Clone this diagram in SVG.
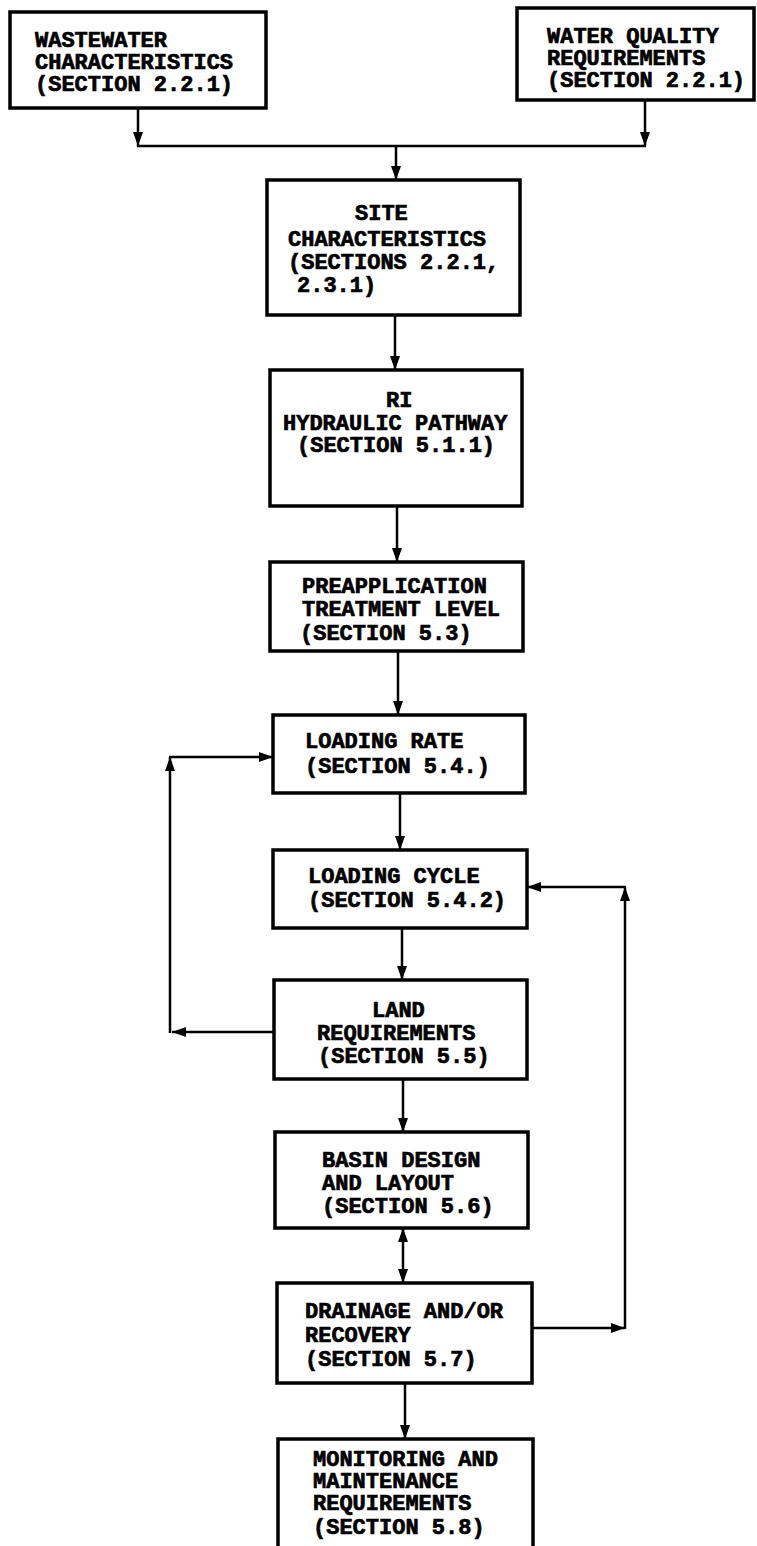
<svg xmlns="http://www.w3.org/2000/svg" width="757" height="1546" viewBox="0 0 757 1546">
<style>
.box{fill:#fff;stroke:#000;stroke-width:3.5}
.t{font-family:"Liberation Mono","DejaVu Sans Mono",monospace;font-weight:bold;font-size:22px;fill:#000;stroke:#000;stroke-width:0.7}
.c{fill:none;stroke:#000;stroke-width:2.5}
.a{marker-end:url(#ah)}
.d{marker-start:url(#ah);marker-end:url(#ah)}
</style>
<defs>
<marker id="ah" markerUnits="userSpaceOnUse" markerWidth="14" markerHeight="10" refX="14" refY="5" orient="auto-start-reverse" viewBox="0 0 14 10">
<path d="M0,0 L14,5 L0,10 z" fill="#000"/>
</marker>
</defs>
<rect width="757" height="1546" fill="#fff"/>
<g id="connectors">
<line class="c a" x1="138" y1="108" x2="138" y2="146"/>
<line class="c a" x1="645" y1="100" x2="645" y2="146"/>
<line class="c" x1="137" y1="146" x2="646" y2="146"/>
<line class="c a" x1="396" y1="146" x2="396" y2="180"/>
<line class="c a" x1="395" y1="315" x2="395" y2="370"/>
<line class="c a" x1="397" y1="506" x2="397" y2="562"/>
<line class="c a" x1="398" y1="651" x2="398" y2="715"/>
<line class="c a" x1="400" y1="793" x2="400" y2="850"/>
<line class="c a" x1="402" y1="928" x2="402" y2="980"/>
<line class="c a" x1="403" y1="1079" x2="403" y2="1132"/>
<line class="c d" x1="403" y1="1228" x2="403" y2="1283"/>
<line class="c a" x1="405" y1="1383" x2="405" y2="1439"/>
<line class="c a" x1="274" y1="1032" x2="172" y2="1032"/>
<line class="c a" x1="170" y1="1033" x2="170" y2="757"/>
<line class="c a" x1="169" y1="757" x2="273" y2="757"/>
<line class="c a" x1="532" y1="1328" x2="625" y2="1328"/>
<line class="c a" x1="625" y1="1329" x2="625" y2="887"/>
<line class="c a" x1="626" y1="887" x2="527" y2="887"/>
</g>
<g id="n1">
<rect class="box" x="10" y="12" width="256" height="96"/>
<text class="t" x="35" y="47">WASTEWATER</text>
<text class="t" x="35" y="69">CHARACTERISTICS</text>
<text class="t" x="35" y="91">(SECTION 2.2.1)</text>
</g>
<g id="n2">
<rect class="box" x="517" y="8" width="237" height="92"/>
<text class="t" x="547" y="43">WATER QUALITY</text>
<text class="t" x="547" y="65">REQUIREMENTS</text>
<text class="t" x="547" y="87">(SECTION 2.2.1)</text>
</g>
<g id="n3">
<rect class="box" x="267" y="180" width="253" height="135"/>
<text class="t" x="355" y="220">SITE</text>
<text class="t" x="288" y="246">CHARACTERISTICS</text>
<text class="t" x="288" y="269">(SECTIONS 2.2.1,</text>
<text class="t" x="297" y="292">2.3.1)</text>
</g>
<g id="n4">
<rect class="box" x="270" y="370" width="252" height="136"/>
<text class="t" x="386" y="407">RI</text>
<text class="t" x="283" y="430">HYDRAULIC PATHWAY</text>
<text class="t" x="297" y="452">(SECTION 5.1.1)</text>
</g>
<g id="n5">
<rect class="box" x="270" y="562" width="253" height="89"/>
<text class="t" x="302" y="593">PREAPPLICATION</text>
<text class="t" x="302" y="616">TREATMENT LEVEL</text>
<text class="t" x="300" y="640">(SECTION 5.3)</text>
</g>
<g id="n6">
<rect class="box" x="273" y="715" width="252" height="78"/>
<text class="t" x="305" y="748">LOADING RATE</text>
<text class="t" x="305" y="773">(SECTION 5.4.)</text>
</g>
<g id="n7">
<rect class="box" x="273" y="850" width="254" height="78"/>
<text class="t" x="308" y="883">LOADING CYCLE</text>
<text class="t" x="308" y="907">(SECTION 5.4.2)</text>
</g>
<g id="n8">
<rect class="box" x="274" y="980" width="253" height="99"/>
<text class="t" x="372" y="1017">LAND</text>
<text class="t" x="317" y="1040">REQUIREMENTS</text>
<text class="t" x="318" y="1063">(SECTION 5.5)</text>
</g>
<g id="n9">
<rect class="box" x="275" y="1132" width="253" height="96"/>
<text class="t" x="322" y="1167">BASIN DESIGN</text>
<text class="t" x="322" y="1190">AND LAYOUT</text>
<text class="t" x="322" y="1213">(SECTION 5.6)</text>
</g>
<g id="n10">
<rect class="box" x="277" y="1283" width="255" height="100"/>
<text class="t" x="305" y="1318">DRAINAGE AND/OR</text>
<text class="t" x="305" y="1342">RECOVERY</text>
<text class="t" x="305" y="1366">(SECTION 5.7)</text>
</g>
<g id="n11">
<rect class="box" x="278" y="1439" width="255" height="120"/>
<text class="t" x="313" y="1466">MONITORING AND</text>
<text class="t" x="313" y="1488">MAINTENANCE</text>
<text class="t" x="313" y="1510">REQUIREMENTS</text>
<text class="t" x="313" y="1534">(SECTION 5.8)</text>
</g>
</svg>
